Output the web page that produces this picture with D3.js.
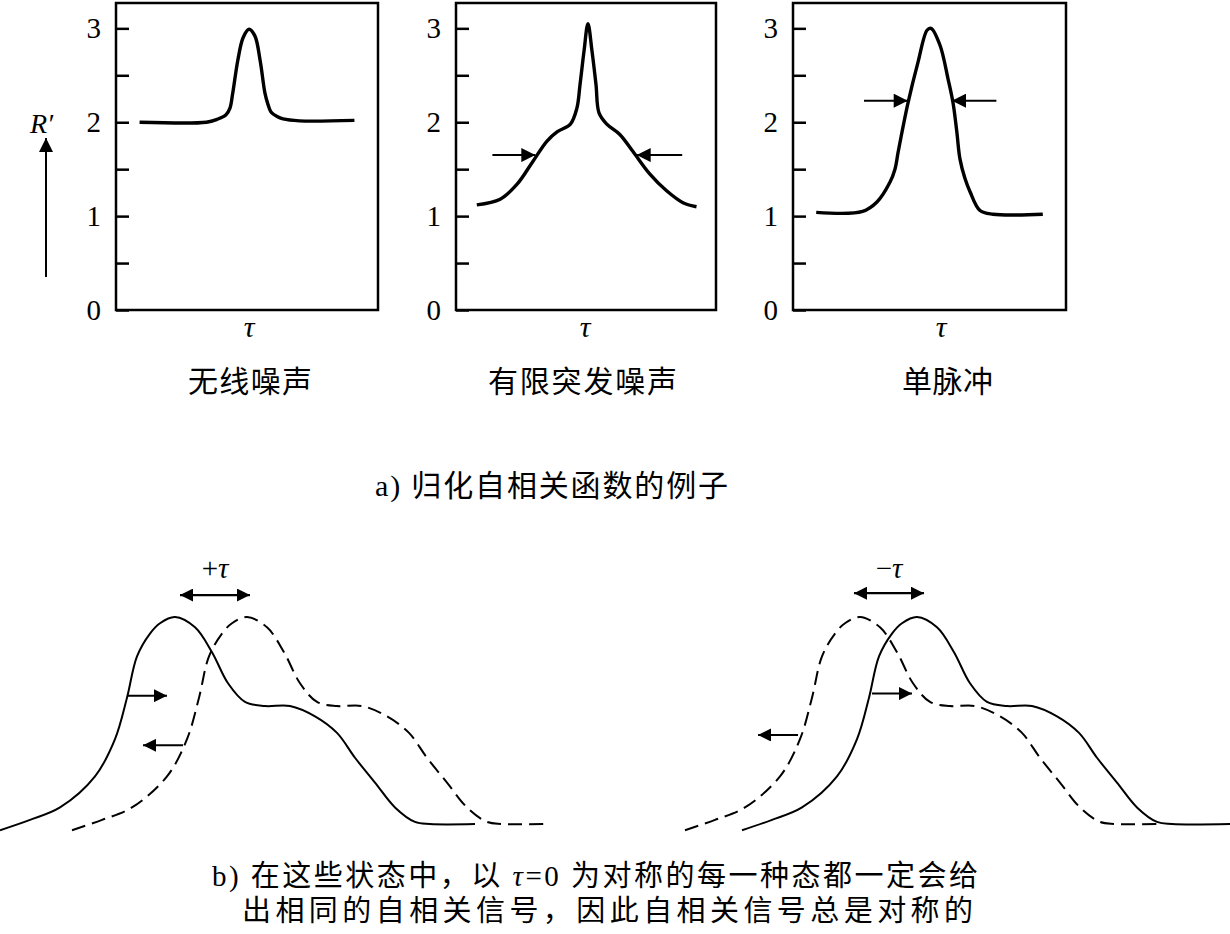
<!DOCTYPE html>
<html><head><meta charset="utf-8">
<script src="https://cdn.jsdelivr.net/npm/d3@7/dist/d3.min.js"></script>
<style>body{margin:0;background:#fff}</style></head>
<body><svg id="c" width="1230" height="934" xmlns="http://www.w3.org/2000/svg"></svg>
<script>
// ---------- data ----------
const panelTitles = ["无线噪声", "有限突发噪声", "单脉冲"];
const yMajorTicks = [0, 1, 2, 3];
const yMinorTicks = [0.5, 1.5, 2.5];

const wirelessTau = [-0.82,-0.31,-0.23,-0.16,-0.13,-0.11,-0.07,-0.03,0.015,0.06,0.10,0.137,0.16,0.183,0.23,0.275,0.40,0.82];
const wirelessR   = [2.00, 2.00, 2.03, 2.08, 2.15, 2.30, 2.66, 2.90, 2.99, 2.92, 2.66, 2.31, 2.19, 2.11, 2.06, 2.035, 2.015, 2.02];

const burstTau = [-0.84,-0.66,-0.53,-0.41,-0.30,-0.22,-0.12,-0.07,-0.046,-0.015,0.015,0.046,0.077,0.10,0.16,0.26,0.36,0.49,0.62,0.75,0.85];
const burstR   = [1.12, 1.18, 1.34, 1.58, 1.80, 1.90, 1.98, 2.15, 2.40, 2.76, 3.05, 2.76, 2.40, 2.10, 1.98, 1.87, 1.69, 1.45, 1.27, 1.14, 1.10];

const pulseTau = [-0.83,-0.49,-0.385,-0.29,-0.253,-0.23,-0.194,-0.157,-0.084,-0.018,0.011,0.077,0.136,0.172,0.20,0.223,0.26,0.297,0.37,0.465,0.83];
const pulseR   = [1.04, 1.05, 1.15, 1.36, 1.50, 1.68, 1.95, 2.21, 2.64, 2.98, 3.00, 2.82, 2.46, 2.21, 1.90, 1.61, 1.40, 1.26, 1.06, 1.02, 1.02];

// half-width marker arrows (R level, [from tau, to tau] pairs)
const burstArrowR = 1.65;
const burstArrows = [[-0.72, -0.39], [0.74, 0.39]];
const pulseArrowR = 2.23;
const pulseArrows = [[-0.48, -0.16], [0.49, 0.165]];

// waveform used in part b)
const waveTau = [0, 30, 60, 95, 115, 127, 137, 150, 160, 175, 195, 212, 228, 245, 265, 290, 315, 337, 355, 375, 395, 415, 430, 488];
const waveAmp = [-0.03, 0.02, 0.08, 0.23, 0.41, 0.61, 0.81, 0.92, 0.97, 1.00, 0.95, 0.83, 0.68, 0.59, 0.57, 0.57, 0.52, 0.44, 0.32, 0.20, 0.08, 0.01, 0, 0];
const waveShifts = [0, 72, 742, 685];
const waveEnds   = [475, 476, 488, 475];
const waveDashed = [false, true, false, true];
// shift labels and arrows in part b)
const shiftLabels = ["+", "−"];
const shiftArrowAmp = [1.106, 1.115];
const shiftArrowX = [[180, 250], [854, 924]];
const moveArrows = [ // [amp, fromX, toX]
  [0.62, 128, 167], [0.38, 183, 143], [0.63, 872, 912], [0.43, 798, 758]
];

const captionA = "a) 归化自相关函数的例子";
const captionB1a = "b) 在这些状态中，以 ";
const captionB1b = "=0 为对称的每一种态都一定会给";
const captionB2 = "出相同的自相关信号，因此自相关信号总是对称的";

// ---------- drawing ----------
const svg = d3.select("#c");
const FONT = "'Liberation Serif', 'Noto Sans CJK SC', serif";
const CJK = "'Liberation Serif', 'Noto Sans CJK SC', sans-serif";

const defs = svg.append("defs");
function marker(id, w, h) {
  defs.append("marker").attr("id", id)
    .attr("viewBox", "0 0 10 10").attr("refX", 10).attr("refY", 5)
    .attr("markerWidth", w).attr("markerHeight", h)
    .attr("markerUnits", "userSpaceOnUse").attr("orient", "auto-start-reverse")
    .append("path").attr("d", "M0,0L10,5L0,10Z").attr("fill", "#000");
}
marker("headBig", 22, 14);
marker("headSmall", 21, 13);

const smooth = d3.curveCatmullRom.alpha(0.5);
const yTop = d3.scaleLinear().domain([0, 3.27]).range([310, 3]);
const panels = [
  {x0: 116, x1: 378, tau: wirelessTau, r: wirelessR, title: panelTitles[0], titleX: 188, titleW: 124, tauX: 249, arrows: null},
  {x0: 456, x1: 716, tau: burstTau, r: burstR, title: panelTitles[1], titleX: 488, titleW: 189, tauX: 585, arrows: burstArrows, arrowR: burstArrowR},
  {x0: 793, x1: 1066, tau: pulseTau, r: pulseR, title: panelTitles[2], titleX: 902, titleW: 91, tauX: 941, arrows: pulseArrows, arrowR: pulseArrowR}
];

panels.forEach(p => {
  const x = d3.scaleLinear().domain([-1, 1]).range([p.x0, p.x1]);
  const g = svg.append("g");
  const axis = d3.axisLeft(yTop)
    .tickValues(yMajorTicks.concat(yMinorTicks))
    .tickFormat(d => Number.isInteger(d) ? d : "")
    .tickSize(-13).tickPadding(15);
  const ag = g.append("g").attr("transform", `translate(${p.x0},0)`).call(axis);
  ag.select(".domain").remove();
  ag.selectAll("line").attr("stroke", "#000").attr("stroke-width", 2.5);
  ag.selectAll("text").attr("font-family", FONT).attr("font-size", 29).attr("fill", "#000");
  g.append("rect").attr("x", p.x0).attr("y", yTop.range()[1])
    .attr("width", p.x1 - p.x0).attr("height", yTop.range()[0] - yTop.range()[1])
    .attr("fill", "none").attr("stroke", "#000").attr("stroke-width", 2.5);
  const pts = p.tau.map((t, i) => [t, p.r[i]]);
  g.append("path").datum(pts)
    .attr("d", d3.line().x(d => x(d[0])).y(d => yTop(d[1])).curve(smooth))
    .attr("fill", "none").attr("stroke", "#000").attr("stroke-width", 3.4)
    .attr("stroke-linejoin", "round");
  if (p.arrows) {
    p.arrows.forEach(a => {
      g.append("line").attr("x1", x(a[0])).attr("x2", x(a[1]))
        .attr("y1", yTop(p.arrowR)).attr("y2", yTop(p.arrowR))
        .attr("stroke", "#000").attr("stroke-width", 2)
        .attr("marker-end", "url(#headBig)");
    });
  }
  g.append("text").attr("x", p.tauX).attr("y", 337).attr("text-anchor", "middle")
    .attr("font-family", FONT).attr("font-style", "italic").attr("font-size", 30).text("τ");
  g.append("text").attr("x", p.titleX).attr("y", 392)
    .attr("font-family", CJK).attr("font-size", 30)
    .attr("textLength", p.titleW).attr("lengthAdjust", "spacing").text(p.title);
});

// R' label and arrow
svg.append("text").attr("x", 30).attr("y", 133)
  .attr("font-family", FONT).attr("font-style", "italic").attr("font-size", 28).text("R′");
svg.append("line").attr("x1", 46).attr("x2", 46).attr("y1", 277).attr("y2", 138)
  .attr("stroke", "#000").attr("stroke-width", 2).attr("marker-end", "url(#headBig)");

// caption a
svg.append("text").attr("x", 375).attr("y", 496)
  .attr("font-family", CJK).attr("font-size", 30)
  .attr("textLength", 353).attr("lengthAdjust", "spacing").text(captionA);

// ---------- part b ----------
const xb = d3.scaleLinear().domain([0, 1230]).range([0, 1230]);
const yb = d3.scaleLinear().domain([0, 1]).range([824, 617]);
const wave = waveTau.map((t, i) => [t, waveAmp[i]]);

waveShifts.forEach((s, i) => {
  const end = waveEnds[i];
  const pts = wave.filter(d => d[0] < end).concat([[end, 0]]);
  svg.append("path").datum(pts)
    .attr("d", d3.line().x(d => xb(d[0] + s)).y(d => yb(d[1])).curve(smooth))
    .attr("fill", "none").attr("stroke", "#000").attr("stroke-width", 2)
    .attr("stroke-dasharray", waveDashed[i] ? "14,7" : null);
});

shiftArrowX.forEach((xs, i) => {
  svg.append("line").attr("x1", xb(xs[0])).attr("x2", xb(xs[1]))
    .attr("y1", yb(shiftArrowAmp[i])).attr("y2", yb(shiftArrowAmp[i]))
    .attr("stroke", "#000").attr("stroke-width", 2.2)
    .attr("marker-start", "url(#headSmall)").attr("marker-end", "url(#headSmall)");
  const t = svg.append("text").attr("x", xb((xs[0] + xs[1]) / 2)).attr("y", 578)
    .attr("text-anchor", "middle").attr("font-family", FONT).attr("font-size", 29);
  t.append("tspan").text(shiftLabels[i]);
  t.append("tspan").attr("font-style", "italic").text("τ");
});

moveArrows.forEach(a => {
  svg.append("line").attr("x1", xb(a[1])).attr("x2", xb(a[2]))
    .attr("y1", yb(a[0])).attr("y2", yb(a[0]))
    .attr("stroke", "#000").attr("stroke-width", 2)
    .attr("marker-end", "url(#headSmall)");
});

// caption b
const b1 = svg.append("text").attr("x", 212).attr("y", 886)
  .attr("font-family", CJK).attr("font-size", 29)
  .attr("textLength", 766).attr("lengthAdjust", "spacing");
b1.append("tspan").text(captionB1a);
b1.append("tspan").attr("font-style", "italic").attr("font-family", FONT).text("τ");
b1.append("tspan").text(captionB1b);
svg.append("text").attr("x", 242).attr("y", 921)
  .attr("font-family", CJK).attr("font-size", 29)
  .attr("textLength", 731).attr("lengthAdjust", "spacing").text(captionB2);
</script>
</body></html>
